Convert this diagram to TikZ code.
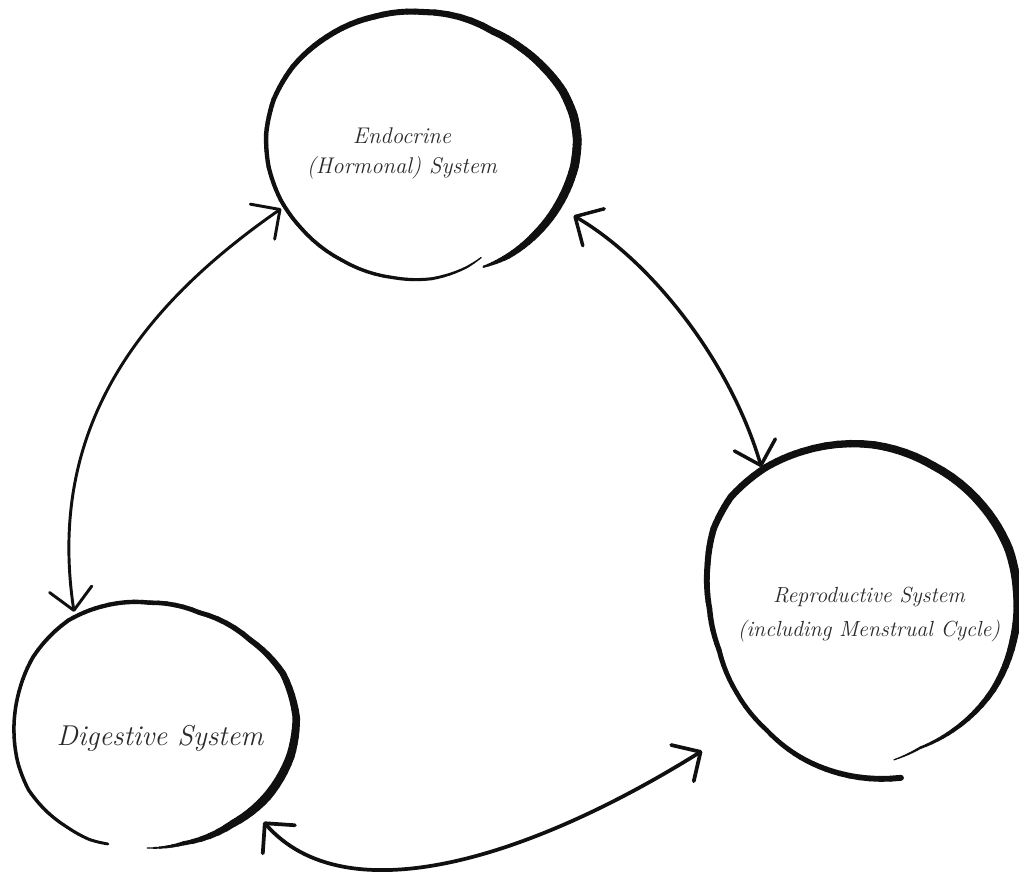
\documentclass[tikz,border=0pt]{standalone}
\usepackage{tikz}
\usetikzlibrary{arrows.meta,shapes.geometric}

\definecolor{ink}{HTML}{101010}
\definecolor{pencil}{HTML}{2A2A2A}

\tikzset{
  ring/.style={draw=none, inner sep=0pt, outer sep=0pt},
  caption/.style={text=pencil, align=center},
  link/.style={draw=ink, line cap=round, <->,
    >={Straight Barb[length=16pt,width=32pt,round]}},
}

% Brush-like loop: polar key points angle/radius/width (radius and width in px)
% around the centre (#1,#2); width is interpolated between key points.
\newcommand\brushloop[3]{%
  \foreach \brT/\brR/\brW [count=\brN, remember=\brT as \brTp (initially 0),
      remember=\brR as \brRp (initially 0), remember=\brW as \brWp (initially 0)] in {#3} {%
    \ifnum\brN>1
      \foreach \brJ in {0,...,5} {%
        \pgfmathsetmacro\brTa{\brTp+(\brT-\brTp)*\brJ/6}%
        \pgfmathsetmacro\brTb{\brTp+(\brT-\brTp)*(\brJ+1)/6}%
        \pgfmathsetmacro\brRa{\brRp+(\brR-\brRp)*\brJ/6}%
        \pgfmathsetmacro\brRb{\brRp+(\brR-\brRp)*(\brJ+1)/6}%
        \pgfmathsetmacro\brWw{0.75*(\brWp+(\brW-\brWp)*(\brJ+0.5)/6)}%
        \draw[ink, line width=\brWw pt, line cap=round]
          ([shift={(#1,#2)}]\brTa:\brRa) -- ([shift={(#1,#2)}]\brTb:\brRb);
      }%
    \fi
  }%
}

\begin{document}
\begin{tikzpicture}[x=0.75pt,y=0.75pt]
\useasboundingbox[fill=white] (0,0) rectangle (1019,-878);

% outline nodes of the three systems (used as connector ends)
\node[ring, ellipse, minimum width=238.5pt, minimum height=207pt] (endo) at (424,-148) {};
\node[ring, ellipse, minimum width=213pt, minimum height=183pt] (dige) at (155,-725) {};
\node[ring, circle, minimum size=240pt] (repro) at (862.5,-611.5) {};

% hand-drawn loops
\brushloop{423}{-148}{-62/124/1.2, -70/127/2.2, -86/131/3, -103/133/3.3,
  -126/138.5/3.6, -147/146/3.8, -160/151.5/4, -173/155.5/4.2, -185/157.5/4.4,
  -198/157/4.6, -212/153.5/5, -229/147/5.5, -250/140/5.8, -270/136/6,
  -301/136/6.8, -314/140/7.3, -326/145/7.8, -338/151/8.3, -348/154/8.7,
  -357/154.5/8.8, -367/152.5/8.8, -381/147.5/8.5, -397/142/7.5,
  -412/137.5/5.5, -423/133.3/2}
\brushloop{156}{-725}{-94/123.3/1.2, -77/121.5/4, -52/125/7.5, -33/132/9,
  -13/138/8.5, 3/140.5/7.5, 22/137/6.5, 42/127/5.5, 69/120.5/4.8,
  93/122.5/4.5, 115/130.5/4.2, 130/136.5/4, 151/140.5/3.8, 166/141/3.6,
  180/142/3.5, 195/143.2/3.5, 207/143/3.5, 218/139.5/3.4, 229/135.4/3.2,
  240/132.4/3, 248/128.3/2.8}
\brushloop{862.5}{-611.5}{-78/151.6/1.2, -67/148/2.5, -53/149.4/4, -31/152.3/6,
  -11/153.5/7.5, 8/156/8.5, 23/159/8.8, 41/160/8.5, 64/162/8, 86/167/7.5,
  111/171/7, 124/173.5/7, 139/174.5/6.8, 151/170.3/6.5, 163/162/6, 179/153/5.5,
  195/148.5/5, 213/149.8/4.5, 231/152.5/4.5, 247/158.4/5, 262/163.5/5.5,
  283/170.7/6}

% labels
\node[caption, font=\itshape\fontsize{17}{23}\selectfont] (endoText) at (402,-153.5)
  {Endocrine\\(Hormonal) System};
\node[caption, font=\itshape\fontsize{16.4}{25}\selectfont] (reproText) at (869,-614.5)
  {Reproductive System\\(including Menstrual Cycle)};
\node[caption, font=\itshape\fontsize{21.5}{25}\selectfont] (digeText) at (160,-738)
  {Digestive System};

% two-way connectors
\draw[link, line width=2.2pt, shorten >=9pt]
  (endo.203) .. controls (150,-300) and (45,-420) .. (dige.128);
\draw[link, line width=2.6pt, shorten <=7pt, shorten >=13pt]
  (endo.336) .. controls (650,-260) and (730,-360) .. (repro.127);
\draw[link, line width=2.8pt, shorten <=10pt, shorten >=40pt]
  (dige.319) .. controls (345,-915) and (527,-860) .. (repro.224);
\end{tikzpicture}
\end{document}
